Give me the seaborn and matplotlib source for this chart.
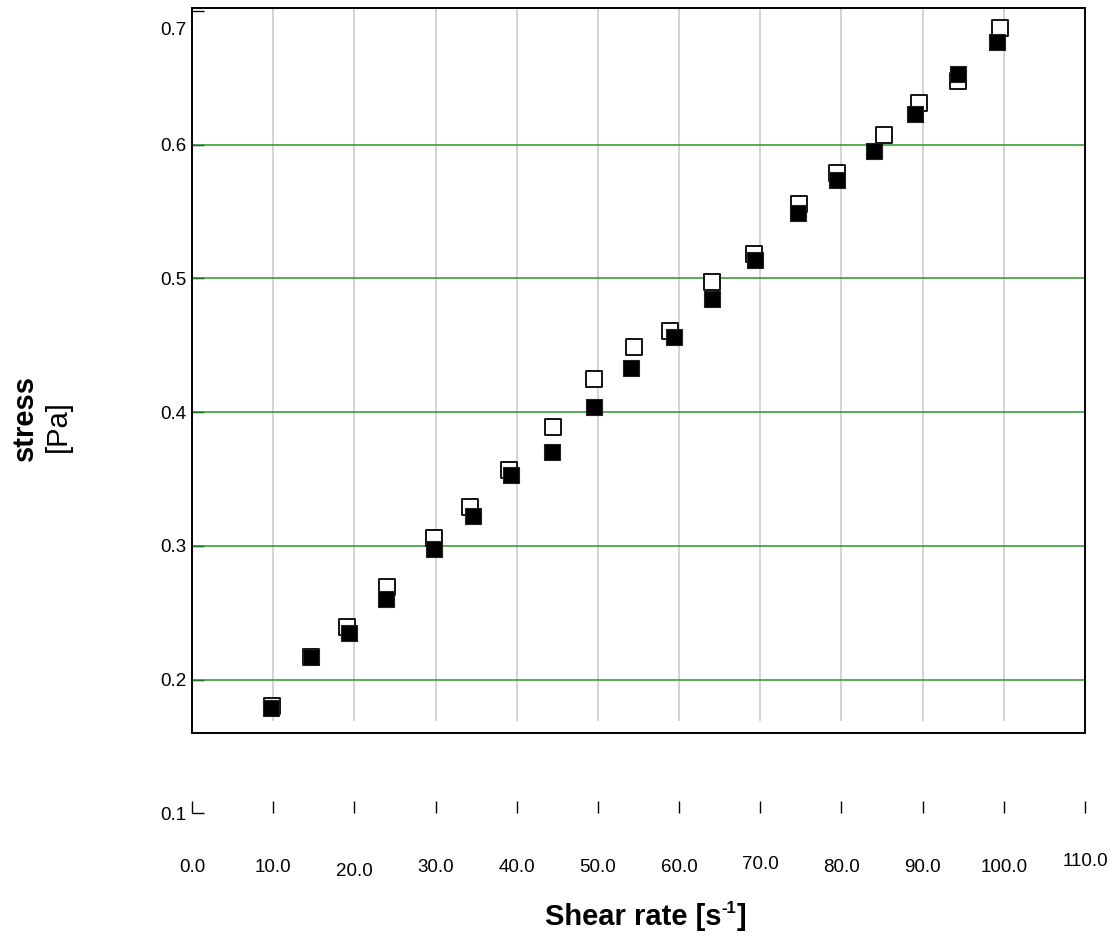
import matplotlib
matplotlib.use("Agg")
import matplotlib.pyplot as plt
from matplotlib.transforms import ScaledTranslation
import numpy as np
import pandas as pd
import seaborn as sns

# ---- data ----
shear_open = [9.9, 14.6, 19.1, 24.0, 29.8, 34.3, 39.0, 44.5, 49.5, 54.4,
              58.9, 64.1, 69.2, 74.8, 79.4, 85.3, 89.6, 94.3, 99.5]
stress_open = [0.180, 0.217, 0.239, 0.269, 0.306, 0.329, 0.357, 0.389, 0.425, 0.449,
               0.461, 0.497, 0.518, 0.556, 0.579, 0.607, 0.631, 0.648, 0.687]
shear_filled = [9.7, 14.6, 19.3, 23.9, 29.8, 34.6, 39.3, 44.4, 49.5, 54.1,
                59.4, 64.0, 69.3, 74.6, 79.4, 84.0, 89.0, 94.3, 99.1]
stress_filled = [0.179, 0.217, 0.235, 0.260, 0.298, 0.322, 0.353, 0.370, 0.404, 0.433,
                 0.456, 0.485, 0.514, 0.549, 0.574, 0.595, 0.623, 0.653, 0.677]

x_ticks = [0, 10, 20, 30, 40, 50, 60, 70, 80, 90, 100, 110]
x_tick_labels = ["0.0", "10.0", "20.0", "30.0", "40.0", "50.0", "60.0", "70.0",
                 "80.0", "90.0", "100.0", "110.0"]
y_ticks = [0.1, 0.2, 0.3, 0.4, 0.5, 0.6, 0.7]
y_tick_labels = ["0.1", "0.2", "0.3", "0.4", "0.5", "0.6", "0.7"]
h_grid = [0.2, 0.3, 0.4, 0.5, 0.6]
v_grid = [10, 20, 30, 40, 50, 60, 70, 80, 90, 100]

# ---- style ----
sns.set_theme(style="white")
plt.rcParams['font.family'] = ['Liberation Sans', 'DejaVu Sans']
plt.rcParams['text.color'] = 'black'

fig = plt.figure(figsize=(11.12, 9.36), dpi=100)
ax = fig.add_axes([0.17266, 0.11325, 0.80306, 0.8782])

y_top = 0.7023
y_bottom = 0.0875
box_bottom = 0.160
ax.set_xlim(0, 110)
ax.set_ylim(y_bottom, y_top)

# grid lines
ax.vlines(v_grid, 0.169, y_top, colors='#c8c8c8', lw=1.1, zorder=0)
for v in h_grid:
    ax.axhline(v, color='#2a962a', lw=1.1, zorder=1)
ax.axhline(box_bottom, color='black', lw=1.4, zorder=2)

df_open = pd.DataFrame({"shear": shear_open, "stress": stress_open})
df_filled = pd.DataFrame({"shear": shear_filled, "stress": stress_filled})

sns.scatterplot(data=df_open, x="shear", y="stress", marker="s", s=125,
                facecolor="white", edgecolor="black", linewidth=1.3, ax=ax, zorder=3)
sns.scatterplot(data=df_filled, x="shear", y="stress", marker="s", s=125,
                color="black", edgecolor="#222222", linewidth=0.8, ax=ax, zorder=4)
ax.set_xlabel("")
ax.set_ylabel("")

# spines
for side in ["left", "right", "top"]:
    ax.spines[side].set_color("black")
    ax.spines[side].set_linewidth(1.4)
ax.spines["left"].set_bounds(box_bottom, y_top)
ax.spines["right"].set_bounds(box_bottom, y_top)
ax.spines["bottom"].set_position(("data", 0.1))
ax.spines["bottom"].set_color("none")

ax.set_xticks(x_ticks)
ax.set_xticklabels(x_tick_labels)
ax.set_yticks(y_ticks)
ax.set_yticklabels(y_tick_labels)
ax.tick_params(axis="x", bottom=True, direction="in", length=8.6, width=1.0,
               color="black", pad=33, labelsize=13.5, labelcolor="black")
ax.tick_params(axis="y", left=True, direction="in", length=8.6, width=1.0,
               color="black", pad=4, labelsize=13.5, labelcolor="black")

# small label offsets as in the reference
offsets = {"20.0": -0.04, "70.0": 0.03, "110.0": 0.06}
for lbl in ax.get_xticklabels():
    t = lbl.get_text()
    if t in offsets:
        lbl.set_transform(lbl.get_transform() +
                          ScaledTranslation(0, offsets[t], fig.dpi_scale_trans))
for lbl in ax.get_yticklabels():
    if lbl.get_text() == "0.7":
        lbl.set_transform(lbl.get_transform() +
                          ScaledTranslation(0, -0.17, fig.dpi_scale_trans))

# axis titles
fig.text(25 / 1112, 1 - 418 / 936, "stress", rotation=90, fontweight="bold",
         fontsize=21, ha="center", va="center", color="black")
fig.text(58 / 1112, 1 - 426 / 936, "[Pa]", rotation=90,
         fontsize=21, ha="center", va="center", color="black")

t1 = fig.text(545 / 1112, 1 - 925 / 936, "Shear rate [s", fontweight="bold",
              fontsize=21, ha="left", va="baseline", color="black")
t2 = ax.annotate("-1", xy=(1.0, 0.55), xycoords=t1, fontweight="bold",
                 fontsize=12, ha="left", va="bottom", color="black",
                 annotation_clip=False)
t3 = ax.annotate("]", xy=(1.0, 0.0), xycoords=(t2, t1), fontweight="bold",
                 fontsize=21, ha="left", va="bottom", color="black",
                 annotation_clip=False)

fig.savefig("out.png", dpi=100)
